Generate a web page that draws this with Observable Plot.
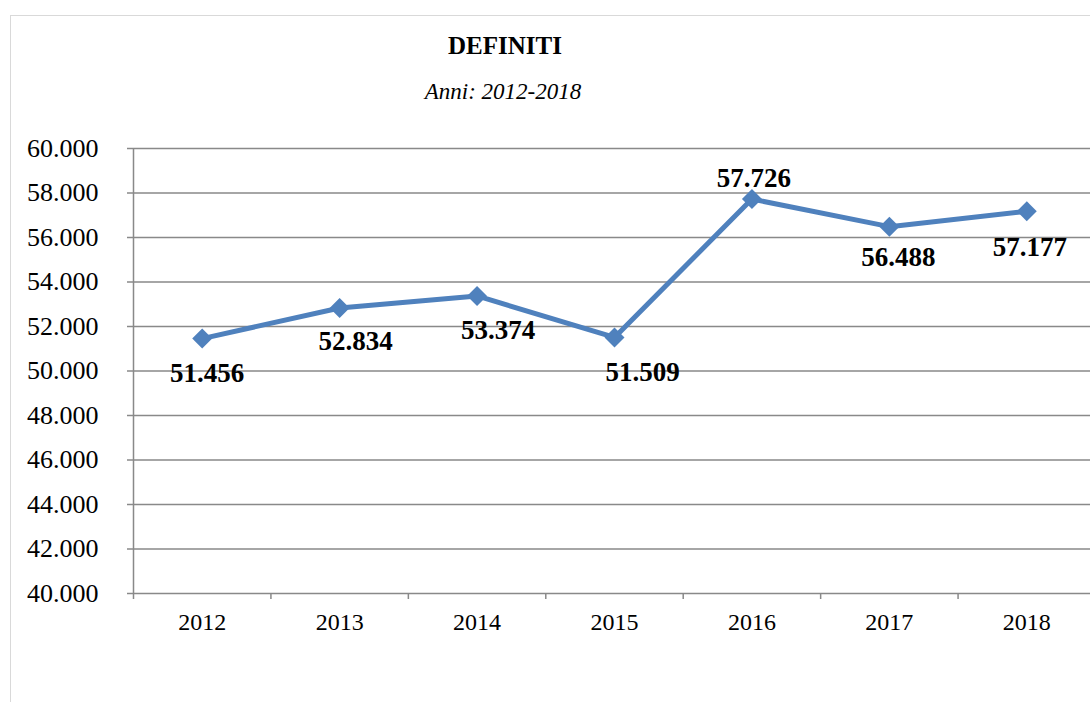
<!DOCTYPE html>
<html>
<head>
<meta charset="utf-8">
<script src="https://cdn.jsdelivr.net/npm/d3@7"></script>
<script src="https://cdn.jsdelivr.net/npm/@observablehq/plot@0.6"></script>
<style>
  html, body { margin: 0; padding: 0; overflow: hidden; background: #fff; }
  #wrap { position: relative; width: 1090px; height: 702px; overflow: hidden; font-family: "Liberation Serif", "Times New Roman", serif; }
  #frame { position: absolute; left: 10px; top: 15px; width: 1200px; height: 800px; border: 1px solid #d9d9d9; box-sizing: border-box; }
  #header { position: relative; height: 120px; }
  #title { position: absolute; left: 0; width: 1010px; top: 33px; text-align: center; font-weight: bold; font-size: 25px; line-height: 25px; color: #000; }
  #subtitle { position: absolute; left: 0; width: 1006px; top: 80px; text-align: center; font-style: italic; font-size: 23px; line-height: 23px; color: #000; }
  #chart { position: relative; }
  #chart svg, #chart svg text, #chart svg g { font-family: "Liberation Serif", "Times New Roman", serif !important; }
</style>
</head>
<body>
<div id="wrap">
  <div id="frame"></div>
  <div id="header">
    <div id="title">DEFINITI</div>
    <div id="subtitle">Anni: 2012-2018</div>
  </div>
  <div id="chart"></div>
</div>
<script>
// ---- data ----
const years = [2012, 2013, 2014, 2015, 2016, 2017, 2018];
const values = [51456, 52834, 53374, 51509, 57726, 56488, 57177];
const yTicks = [40000, 42000, 44000, 46000, 48000, 50000, 52000, 54000, 56000, 58000, 60000];

// label nudges (styling only): [dx, dy] in pixels
const labelNudges = [[5, 35], [16, 33], [21, 34], [28, 35], [2, -21], [9, 31], [3, 36]];

const serif = "Liberation Serif";
const itFormat = d3.formatLocale({decimal: ",", thousands: ".", grouping: [3], currency: ["", "€"]}).format(",");
const data = years.map((y, i) => ({year: y, value: values[i]}));
const bounds = [years[0] - 0.5, ...years.map(y => y + 0.5)];

const blue = "#4F81BD";
const grid = "#898989";

const labelMarks = data.map((d, i) => Plot.text([d], {
  x: "year", y: "value", text: dd => itFormat(dd.value),
  dx: labelNudges[i][0], dy: labelNudges[i][1],
  fontWeight: "bold", fontSize: 27, fontFamily: serif, fill: "#000"
}));

const chart = Plot.plot({
  width: 1095,
  height: 582,
  marginLeft: 133,
  marginRight: 0,
  marginTop: 28,
  marginBottom: 109,
  style: {
    fontFamily: serif,
    background: "transparent",
    maxWidth: "none",
    overflow: "visible",
    color: "#000"
  },
  x: {domain: [bounds[0], bounds[bounds.length - 1]]},
  y: {domain: [40000, 60000]},
  marks: [
    Plot.ruleY(yTicks, {stroke: grid, strokeWidth: 1.5}),
    Plot.ruleX([bounds[0]], {y1: 40000, y2: 60000, stroke: grid, strokeWidth: 1.5}),
    Plot.axisY({ticks: yTicks, tickSize: 6, tickPadding: 29, tickFormat: itFormat, stroke: grid, strokeWidth: 1.5, fill: "#000", fontSize: 26, fontFamily: serif, label: null}),
    Plot.axisX({ticks: bounds, tickSize: 6, tickFormat: () => "", stroke: grid, strokeWidth: 1.5, label: null}),
    Plot.axisX({ticks: years, tickSize: 0, tickPadding: 19, tickFormat: d => String(d), fill: "#000", fontSize: 24, fontFamily: serif, label: null}),
    Plot.line(data, {x: "year", y: "value", stroke: blue, strokeWidth: 5, strokeLinejoin: "round"}),
    Plot.dot(data, {x: "year", y: "value", symbol: "diamond2", r: 9, fill: blue, stroke: "none"}),
    ...labelMarks
  ]
});
document.getElementById("chart").appendChild(chart);
</script>
</body>
</html>
